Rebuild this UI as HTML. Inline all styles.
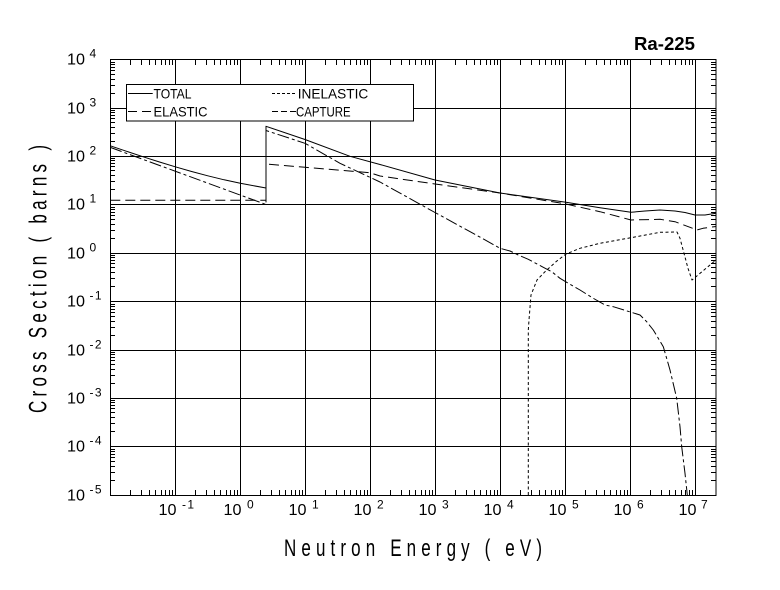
<!DOCTYPE html>
<html>
<head>
<meta charset="utf-8">
<style>
html,body{margin:0;padding:0;background:#fff;}
svg{display:block;}
text{font-family:"Liberation Sans",Arial,sans-serif;fill:#000;}
</style>
</head>
<body>
<svg width="780" height="590" viewBox="0 0 780 590" xmlns="http://www.w3.org/2000/svg">
<rect x="0" y="0" width="780" height="590" fill="#fff"/>
<defs>
  <path id="tb" d="M20 0v-5M31 0v-5M39 0v-5M45 0v-5M51 0v-5M55 0v-5M59 0v-5M62 0v-5" stroke="#000" stroke-width="1" fill="none"/>
  <path id="tt" d="M20 0v5M31 0v5M39 0v5M45 0v5M51 0v5M55 0v5M59 0v5M62 0v5" stroke="#000" stroke-width="1" fill="none"/>
  <path id="tl" d="M0 -15h5M0 -23h5M0 -29h5M0 -34h5M0 -38h5M0 -41h5M0 -44h5M0 -46h5" stroke="#000" stroke-width="1" fill="none"/>
  <path id="tr" d="M0 -15h-5M0 -23h-5M0 -29h-5M0 -34h-5M0 -38h-5M0 -41h-5M0 -44h-5M0 -46h-5" stroke="#000" stroke-width="1" fill="none"/>
</defs>

<!-- grid -->
<g stroke="#000" stroke-width="1" fill="none">
  <path d="M175.5 59.5V495.5M240.5 59.5V495.5M305.5 59.5V495.5M370.5 59.5V495.5M435.5 59.5V495.5M500.5 59.5V495.5M565.5 59.5V495.5M630.5 59.5V495.5M695.5 59.5V495.5"/>
  <path d="M110.5 108.5H716M110.5 156.5H716M110.5 204.5H716M110.5 253.5H716M110.5 301.5H716M110.5 350.5H716M110.5 398.5H716M110.5 446.5H716"/>
</g>

<!-- minor ticks -->
<g>
  <use href="#tb" x="110.5" y="495"/><use href="#tb" x="175.5" y="495"/><use href="#tb" x="240.5" y="495"/>
  <use href="#tb" x="305.5" y="495"/><use href="#tb" x="370.5" y="495"/><use href="#tb" x="435.5" y="495"/>
  <use href="#tb" x="500.5" y="495"/><use href="#tb" x="565.5" y="495"/><use href="#tb" x="630.5" y="495"/>
  <use href="#tt" x="110.5" y="60"/><use href="#tt" x="175.5" y="60"/><use href="#tt" x="240.5" y="60"/>
  <use href="#tt" x="305.5" y="60"/><use href="#tt" x="370.5" y="60"/><use href="#tt" x="435.5" y="60"/>
  <use href="#tt" x="500.5" y="60"/><use href="#tt" x="565.5" y="60"/><use href="#tt" x="630.5" y="60"/>
  <use href="#tl" x="110" y="495.5"/><use href="#tl" x="110" y="446.5"/><use href="#tl" x="110" y="398.5"/>
  <use href="#tl" x="110" y="350.5"/><use href="#tl" x="110" y="301.5"/><use href="#tl" x="110" y="253.5"/>
  <use href="#tl" x="110" y="204.5"/><use href="#tl" x="110" y="156.5"/><use href="#tl" x="110" y="108.5"/>
  <use href="#tr" x="716" y="495.5"/><use href="#tr" x="716" y="446.5"/><use href="#tr" x="716" y="398.5"/>
  <use href="#tr" x="716" y="350.5"/><use href="#tr" x="716" y="301.5"/><use href="#tr" x="716" y="253.5"/>
  <use href="#tr" x="716" y="204.5"/><use href="#tr" x="716" y="156.5"/><use href="#tr" x="716" y="108.5"/>
</g>

<!-- curves -->
<g fill="none" stroke="#000" stroke-width="1" stroke-linejoin="round">
  <!-- TOTAL -->
  <path d="M110.3 145.8L126.6 151.3L142.8 156.7L159.1 161.9L175.3 166.8L191.6 171.5L207.8 175.8L224.1 179.8L240.3 183.3L266 188L266 126.3L305 139.5L350 156.3L380 164.5L435 180L500 193L566 202.2L600 207.7L631 212.3L645 211L660 210L675 211L685 212.5L695 215L705 215L716 213.3"/>
  <!-- ELASTIC -->
  <path stroke-dasharray="10 5" d="M110.3 200.3L266 200.3L266 164L305 167.3L370 172.7L380 176L435 184L500 193L566 204L600 211.7L631 220L660 219.3L675 221.7L690 227.3L697 230L703 228.3L716 226.5"/>
  <!-- CAPTURE -->
  <path stroke-dasharray="12 3 3 3" d="M110.3 147.4L266 204.5L266 130.5L305 143.3L340 163.3L380 182L435 212.5L484 239.3L500 248.3L510 251L518.3 255L528.3 259.3L543.3 267.3L551.7 271.7L560 278.3L570 284.3L580 290L593.3 298.3L605 305L613.3 306.7L640 315L646.7 321.7L653.3 330L663.3 346.7L670 370L676.7 398.3L680 426.7L681.7 446.7L685 473.3L687.3 495"/>
  <!-- INELASTIC -->
  <path stroke-dasharray="3 2.5" d="M528.3 495L528.3 330L529 320L531 295L537 280L545 271.7L556 261.7L566 254L580 248.3L600 243.3L631 237.7L660 232.3L677 232L680 238.3L688 268.3L692 280L698 275L710 265L716 260"/>
</g>

<!-- legend -->
<rect x="126.5" y="84.5" width="287" height="36.5" fill="#fff" stroke="#000" stroke-width="1"/>
<g stroke="#000" stroke-width="1" fill="none">
  <path d="M128 93.5H152.7"/>
  <path d="M128 111.5H152.7" stroke-dasharray="9 5"/>
  <path d="M272 93.5H296" stroke-dasharray="3 2"/>
  <path d="M272 111.5H296" stroke-dasharray="6 3"/>
</g>
<g font-size="14">
  <text x="153.5" y="98.5" textLength="38" lengthAdjust="spacingAndGlyphs">TOTAL</text>
  <text x="153.5" y="116.5" textLength="54" lengthAdjust="spacingAndGlyphs">ELASTIC</text>
  <text x="297.7" y="98.5" textLength="70.6" lengthAdjust="spacingAndGlyphs">INELASTIC</text>
  <text x="296" y="116.5" textLength="54.7" lengthAdjust="spacingAndGlyphs">CAPTURE</text>
</g>

<!-- frame -->
<rect x="110.5" y="59.5" width="605.5" height="436" fill="none" stroke="#000" stroke-width="1"/>

<!-- title -->
<text x="634" y="50" font-size="18" font-weight="bold" textLength="61" lengthAdjust="spacingAndGlyphs">Ra-225</text>

<!-- y tick labels -->
<g>
  <text x="67" y="64.5" font-size="16" textLength="18" lengthAdjust="spacingAndGlyphs">10</text><text x="89.5" y="57.5" font-size="12">4</text>
  <text x="67" y="113.5" font-size="16" textLength="18" lengthAdjust="spacingAndGlyphs">10</text><text x="89.5" y="106.5" font-size="12">3</text>
  <text x="67" y="161.5" font-size="16" textLength="18" lengthAdjust="spacingAndGlyphs">10</text><text x="89.5" y="154.5" font-size="12">2</text>
  <text x="67" y="209.5" font-size="16" textLength="18" lengthAdjust="spacingAndGlyphs">10</text><text x="89.5" y="202.5" font-size="12">1</text>
  <text x="67" y="258.5" font-size="16" textLength="18" lengthAdjust="spacingAndGlyphs">10</text><text x="89.5" y="251.5" font-size="12">0</text>
  <text x="67" y="306.5" font-size="16" textLength="18" lengthAdjust="spacingAndGlyphs">10</text><text x="89.5" y="299.5" font-size="12" textLength="12" lengthAdjust="spacing">-1</text>
  <text x="67" y="355.5" font-size="16" textLength="18" lengthAdjust="spacingAndGlyphs">10</text><text x="89.5" y="348.5" font-size="12" textLength="12" lengthAdjust="spacing">-2</text>
  <text x="67" y="403.5" font-size="16" textLength="18" lengthAdjust="spacingAndGlyphs">10</text><text x="89.5" y="396.5" font-size="12" textLength="12" lengthAdjust="spacing">-3</text>
  <text x="67" y="451.5" font-size="16" textLength="18" lengthAdjust="spacingAndGlyphs">10</text><text x="89.5" y="444.5" font-size="12" textLength="12" lengthAdjust="spacing">-4</text>
  <text x="67" y="500.5" font-size="16" textLength="18" lengthAdjust="spacingAndGlyphs">10</text><text x="89.5" y="493.5" font-size="12" textLength="12" lengthAdjust="spacing">-5</text>
</g>

<!-- x tick labels -->
<g>
  <text x="158.5" y="515" font-size="16" textLength="18" lengthAdjust="spacingAndGlyphs">10</text><text x="182" y="508.5" font-size="12" textLength="12" lengthAdjust="spacing">-1</text>
  <text x="223.5" y="515" font-size="16" textLength="18" lengthAdjust="spacingAndGlyphs">10</text><text x="247" y="508.5" font-size="12">0</text>
  <text x="288.5" y="515" font-size="16" textLength="18" lengthAdjust="spacingAndGlyphs">10</text><text x="312" y="508.5" font-size="12">1</text>
  <text x="353.5" y="515" font-size="16" textLength="18" lengthAdjust="spacingAndGlyphs">10</text><text x="377" y="508.5" font-size="12">2</text>
  <text x="418.5" y="515" font-size="16" textLength="18" lengthAdjust="spacingAndGlyphs">10</text><text x="442" y="508.5" font-size="12">3</text>
  <text x="483.5" y="515" font-size="16" textLength="18" lengthAdjust="spacingAndGlyphs">10</text><text x="507" y="508.5" font-size="12">4</text>
  <text x="548.5" y="515" font-size="16" textLength="18" lengthAdjust="spacingAndGlyphs">10</text><text x="572" y="508.5" font-size="12">5</text>
  <text x="613.5" y="515" font-size="16" textLength="18" lengthAdjust="spacingAndGlyphs">10</text><text x="637" y="508.5" font-size="12">6</text>
  <text x="678.5" y="515" font-size="16" textLength="18" lengthAdjust="spacingAndGlyphs">10</text><text x="701" y="508.5" font-size="12">7</text>
</g>

<!-- axis titles -->
<text transform="translate(284,556) scale(1,1.4)" font-size="17" textLength="258" lengthAdjust="spacing">Neutron Energy ( eV)</text>
<text transform="translate(46.5,413) rotate(-90) scale(1,1.45)" font-size="17" textLength="268" lengthAdjust="spacing">Cross Section ( barns )</text>
</svg>
</body>
</html>
